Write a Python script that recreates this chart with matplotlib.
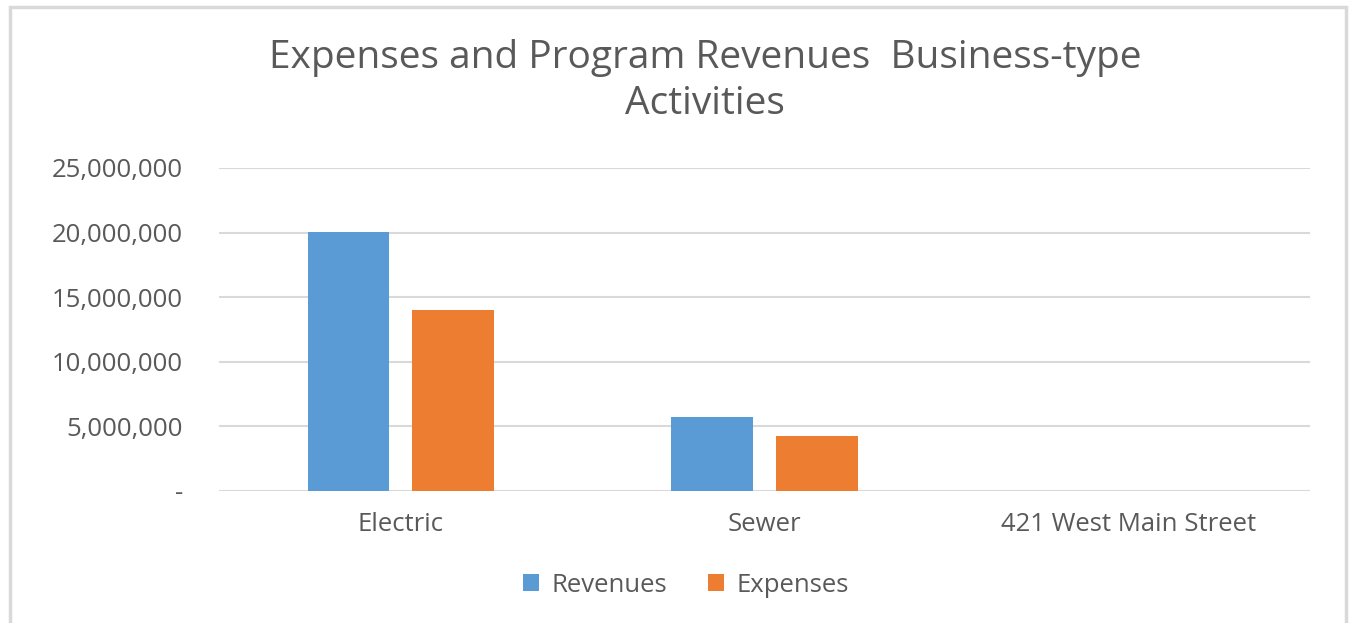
import matplotlib.pyplot as plt
import matplotlib.patches as mpatches
import numpy as np

plt.rcParams['font.family'] = ['Open Sans', 'DejaVu Sans']

# data
categories = ['Electric', 'Sewer', '421 West Main Street']
revenues = [20_050_000, 5_700_000, 0]
expenses = [14_000_000, 4_250_000, 0]
yticks = [0, 5_000_000, 10_000_000, 15_000_000, 20_000_000, 25_000_000]
ytick_labels = ['-', '5,000,000', '10,000,000', '15,000,000', '20,000,000', '25,000,000']

W, H = 1351, 623
fig = plt.figure(figsize=(W / 100, H / 100), dpi=100)

grey = '#595959'
blue = '#5B9BD5'
orange = '#ED7D31'

# chart area border
fig.patches.append(mpatches.Rectangle((10 / W, -0.05), 1336 / W, 1 - 7 / H + 0.05,
                                      transform=fig.transFigure, fill=False,
                                      edgecolor='#d9d9d9', lw=2.5))

ax = fig.add_axes([219 / W, 1 - 491 / H, (1310 - 219) / W, (491 - 168) / H])

x = np.arange(len(categories))
bw = 0.225
off = 0.144
ax.bar(x - off, revenues, bw, color=blue, label='Revenues', zorder=3)
ax.bar(x + off, expenses, bw, color=orange, label='Expenses', zorder=3)

ax.set_xlim(-0.5, len(categories) - 0.5)
ax.set_ylim(0, 25_000_000)
ax.set_yticks(yticks)
ax.set_yticklabels(ytick_labels)
ax.set_xticks(x)
ax.set_xticklabels(categories)
ax.tick_params(axis='both', length=0, labelsize=18.5, colors=grey)
ax.tick_params(axis='y', pad=26)
ax.tick_params(axis='x', pad=15)
ax.grid(axis='y', color='#d9d9d9', lw=1.5, zorder=0)
for s in ax.spines.values():
    s.set_visible(False)

fig.text(705 / W, 1 - 81 / H, 'Expenses and Program Revenues  Business-type\nActivities',
         ha='center', va='center', fontsize=28, color=grey, linespacing=1.3)

leg = fig.legend(loc='center', bbox_to_anchor=(686 / W, 1 - 585 / H), ncol=2, frameon=False,
                 fontsize=18.5, handlelength=0.6, handleheight=0.6, columnspacing=1.6,
                 handletextpad=0.5)
for t in leg.get_texts():
    t.set_color(grey)

fig.savefig('out.png', dpi=100)
